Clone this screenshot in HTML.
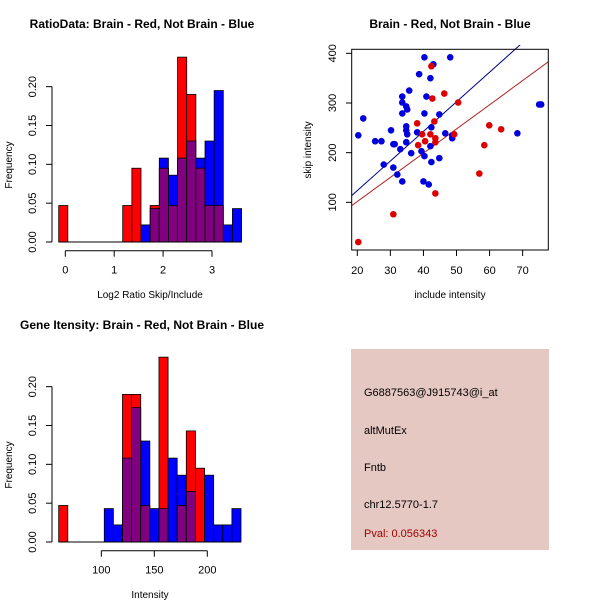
<!DOCTYPE html>
<html><head><meta charset="utf-8"><style>
body{margin:0;background:#fff}
svg{font-family:"Liberation Sans",sans-serif}
</style></head><body>
<svg id="s" width="600" height="600" viewBox="0 0 600 600" xmlns="http://www.w3.org/2000/svg">
<rect width="600" height="600" fill="#fff"/>
<text x="142" y="28" text-anchor="middle" font-weight="bold" font-size="12">RatioData: Brain - Red, Not Brain - Blue</text>
<text x="450" y="28" text-anchor="middle" font-weight="bold" font-size="12">Brain - Red, Not Brain - Blue</text>
<text x="142" y="329" text-anchor="middle" font-weight="bold" font-size="12">Gene Itensity: Brain - Red, Not Brain - Blue</text>
<text x="150" y="298" text-anchor="middle" font-size="10">Log2 Ratio Skip/Include</text>
<text x="150" y="598" text-anchor="middle" font-size="10">Intensity</text>
<text transform="translate(12,165) rotate(-90)" text-anchor="middle" font-size="10">Frequency</text>
<text transform="translate(12,465) rotate(-90)" text-anchor="middle" font-size="10">Frequency</text>
<text x="450" y="298" text-anchor="middle" font-size="10">include intensity</text>
<text transform="translate(311,150) rotate(-90)" text-anchor="middle" font-size="10">skip intensity</text>
<rect x="351" y="349" width="198" height="201" fill="#e6c8c2"/>
<text x="364" y="396" font-size="11">G6887563@J915743@i_at</text>
<text x="364" y="434" font-size="11">altMutEx</text>
<text x="364" y="471" font-size="11">Fntb</text>
<text x="364" y="508" font-size="11">chr12.5770-1.7</text>
<text x="364" y="537" font-size="11" fill="#a00000">Pval: 0.056343</text>
</svg>
<script>
// Ratio histogram data (20 bins)
const ratioBinStart = -0.135, ratioBinWidth = 0.187;
const ratioRed  = [0.047,0,0,0,0,0,0,0.047,0.095,0,0.047,0.095,0.047,0.238,0.19,0.095,0.047,0.047,0,0];
const ratioBlue = [0,0,0,0,0,0,0,0,0,0.022,0.043,0.108,0.086,0.108,0.13,0.108,0.13,0.195,0.022,0.043];
const ratioXTicks = [0,1,2,3];
const freqTicks = ["0.00","0.05","0.10","0.15","0.20"];
// Intensity histogram data
const intBinStart = 59.8, intBinWidth = 8.6;
const intRed  = [0.047,0,0,0,0,0,0,0.19,0.19,0.047,0,0.238,0,0.047,0.143,0.095,0,0,0,0];
const intBlue = [0,0,0,0,0,0.043,0.022,0.108,0.173,0.13,0.043,0.043,0.108,0.086,0.065,0,0.086,0.022,0.022,0.043];
const intXTicks = [100,150,200];
// Scatter data
const blueX = [20.3,21.8,25.4,27.3,28,30.2,30.9,31.3,30.9,32.1,33,33.6,33.6,33.6,33.6,34.8,35.1,34.8,34.8,35.1,34.8,35.7,36.3,38.1,38.7,39.4,40.3,40.3,40.3,40,40.9,41.6,42.1,42.1,42.4,42.4,43,44.8,44.8,46.6,48.1,48.7,48.7,68.4,75,75.6];
const blueY = [235,269,223,223,176,245,217,217,170,156,207,313,301,279,142,293,287,253,245,237,221,325,199,241,358,203,392,279,193,142,313,136,350,213,251,181,378,277,189,239,392,235,229,239,297,297];
const redX = [20.3,30.9,38.1,38.4,39.6,40.5,42.1,42.4,42.7,43.3,43.6,43.6,43.6,46.3,49.3,50.5,56.9,58.4,59.9,63.5];
const redY = [20,76,259,215,237,223,237,374,309,263,229,221,118,319,237,301,158,215,255,247];
const blueFit = [4.4, 5.96];
const redFit = [4.2, 4.87];
const scatterXTicks = [20,30,40,50,60,70];
const scatterYTicks = [100,200,300,400];

const NS = "http://www.w3.org/2000/svg";
const svg = document.getElementById('s');
function mk(tag, attrs, parent){const e=document.createElementNS(NS,tag);for(const k in attrs)e.setAttribute(k,attrs[k]);(parent||svg).appendChild(e);return e;}

function hist(name, red, blue, binStart, binW, sx, base, xticks, yAxisTop){
  const g = mk('g',{});
  
  
  const sy = v => base - v*776.7;
  for(let i=0;i<red.length;i++){
    const x0 = sx(binStart+i*binW), x1 = sx(binStart+(i+1)*binW);
    const r=red[i], b=blue[i];
    if(r===0 && b===0) continue;
    const hi = Math.max(r,b), lo = Math.min(r,b);
    const c = r>=b ? '#ff0000' : '#0000ff';
    const big = mk('rect',{x:x0,y:sy(hi),width:x1-x0,height:sy(0)-sy(hi),fill:c,stroke:'#000','stroke-width':0.8},g);
    
    
    if(lo>0){
      const p = mk('rect',{x:x0,y:sy(lo),width:x1-x0,height:sy(0)-sy(lo),fill:'#800080',stroke:'#000','stroke-width':0.8},g);
      
      
    }
  }
  // baseline
  mk('line',{x1:sx(binStart),x2:sx(binStart+red.length*binW),y1:base,y2:base,stroke:'#000'},g);
  // x axis
  const ay = base+8.7;
  mk('line',{x1:sx(xticks[0]),x2:sx(xticks[xticks.length-1]),y1:ay,y2:ay,stroke:'#000'},g);
  xticks.forEach(t=>{
    mk('line',{x1:sx(t),x2:sx(t),y1:ay,y2:ay+6,stroke:'#000'},g);
    const tx = mk('text',{x:sx(t),y:ay+23,'text-anchor':'middle','font-size':11},g);
    tx.textContent = t;
    
    
  });
  // y axis
  const ax = 52;
  mk('line',{x1:ax,x2:ax,y1:sy(0),y2:sy(0.2),stroke:'#000'},g);
  freqTicks.forEach(t=>{
    const y = sy(parseFloat(t));
    mk('line',{x1:ax-6,x2:ax,y1:y,y2:y,stroke:'#000'},g);
    const tx = mk('text',{transform:`translate(36,${y}) rotate(-90)`,'text-anchor':'middle','font-size':11},g);
    tx.textContent = t;
    
    
  });
}
hist('ratio-histogram', ratioRed, ratioBlue, ratioBinStart, ratioBinWidth, v=>65.3+v*48.9, 242, ratioXTicks);
hist('intensity-histogram', intRed, intBlue, intBinStart, intBinWidth, v=>101.3+(v-100)*1.06, 542, intXTicks);

// Scatter
const sxs = v => 357.3 + (v-20)*3.307;
const sys = v => 252 - v*0.4967;
const sg = mk('g',{});


mk('defs',{}).innerHTML = '<clipPath id="clip"><rect x="352" y="45" width="196" height="205"/></clipPath>';
const fitG = mk('g',{'clip-path':'url(#clip)'},sg);
[[blueFit,'#00008b','blue-fit-line'],[redFit,'#b22222','red-fit-line']].forEach(([f,c,n])=>{
  const l = mk('line',{x1:sxs(15),y1:sys(f[0]+f[1]*15),x2:sxs(80),y2:sys(f[0]+f[1]*80),stroke:c,'stroke-width':1},fitG);
  
  
});
blueX.forEach((x,i)=>{
  const c = mk('circle',{cx:sxs(x),cy:sys(blueY[i]),r:3.3,fill:'#0000dd'},sg);
  
  
});
redX.forEach((x,i)=>{
  const c = mk('circle',{cx:sxs(x),cy:sys(redY[i]),r:3.3,fill:'#dd0000'},sg);
  
  
});
mk('rect',{x:351.7,y:49.3,width:196.6,height:200.7,fill:'none',stroke:'#000'},sg);
scatterXTicks.forEach(t=>{
  mk('line',{x1:sxs(t),x2:sxs(t),y1:250,y2:256,stroke:'#000'},sg);
  const tx = mk('text',{x:sxs(t),y:274,'text-anchor':'middle','font-size':11},sg);
  tx.textContent = t;
  
  
});
scatterYTicks.forEach(t=>{
  mk('line',{x1:346,x2:351.7,y1:sys(t),y2:sys(t),stroke:'#000'},sg);
  const tx = mk('text',{transform:`translate(336,${sys(t)}) rotate(-90)`,'text-anchor':'middle','font-size':11},sg);
  tx.textContent = t;
  
  
});
</script>
</body></html>
